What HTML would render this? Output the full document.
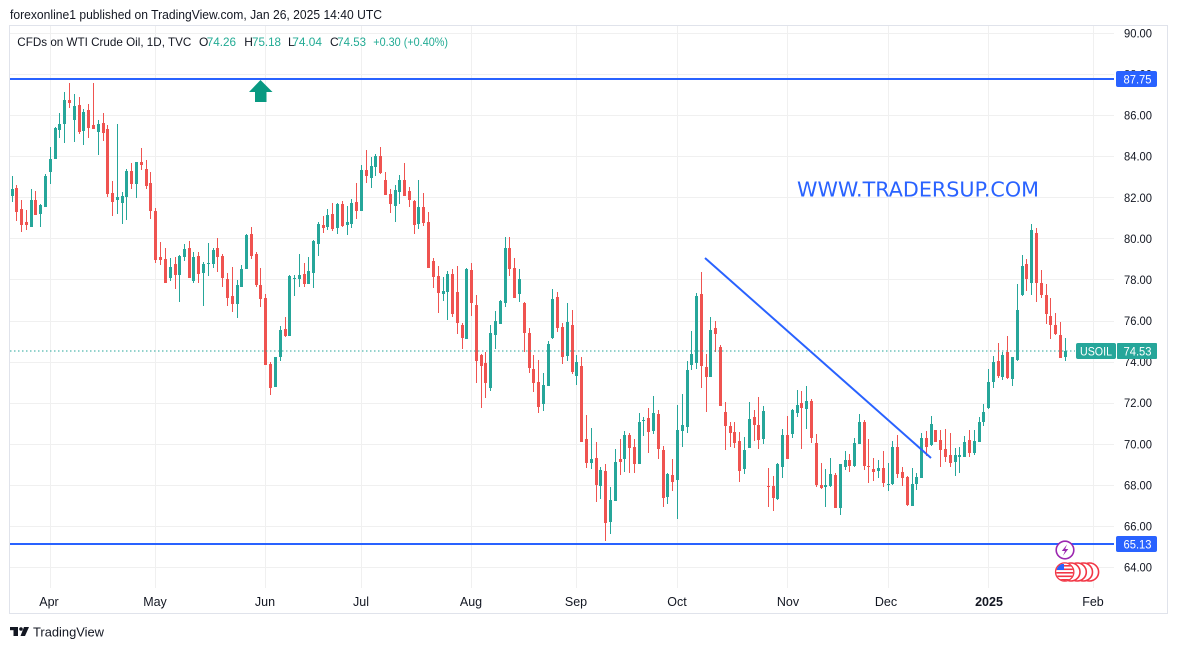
<!DOCTYPE html>
<html>
<head>
<meta charset="utf-8">
<style>
html,body{margin:0;padding:0;background:#fff;width:1177px;height:650px;overflow:hidden;}
svg{display:block;}
text{font-family:"Liberation Sans",Arial,sans-serif;}
</style>
</head>
<body>
<svg id="s" width="1177" height="650" viewBox="0 0 1177 650" xmlns="http://www.w3.org/2000/svg">
<rect x="0" y="0" width="1177" height="650" fill="#fff"/>
<!-- frame -->
<rect x="9.5" y="25.5" width="1158" height="588" fill="none" stroke="#e0e3eb" stroke-width="1"/>
<g id="grid" stroke="#f0f0f0" stroke-width="1"></g>
<!-- header -->
<text x="10" y="19" font-size="12.5" fill="#131722" textLength="372" lengthAdjust="spacingAndGlyphs">forexonline1 published on TradingView.com, Jan 26, 2025 14:40 UTC</text>
<g font-size="12" fill="#131722">
<text x="17.3" y="46" textLength="174" lengthAdjust="spacingAndGlyphs">CFDs on WTI Crude Oil, 1D, TVC</text>
<text x="199" y="46">O</text>
<text x="206.7" y="46" fill="#22ab94" textLength="29.3" lengthAdjust="spacingAndGlyphs">74.26</text>
<text x="244.3" y="46">H</text>
<text x="252" y="46" fill="#22ab94" textLength="29" lengthAdjust="spacingAndGlyphs">75.18</text>
<text x="288" y="46">L</text>
<text x="292.3" y="46" fill="#22ab94" textLength="29.7" lengthAdjust="spacingAndGlyphs">74.04</text>
<text x="330" y="46">C</text>
<text x="337.3" y="46" fill="#22ab94" textLength="28.7" lengthAdjust="spacingAndGlyphs">74.53</text>
<text x="373.3" y="46" fill="#22ab94" textLength="74.7" lengthAdjust="spacingAndGlyphs">+0.30 (+0.40%)</text>
</g>
<!-- axis labels -->
<g id="yl" font-size="12" fill="#131722"></g>
<g id="xl" font-size="12.5" fill="#131722" text-anchor="middle"></g>
<!-- candles -->
<g id="cd"></g>
<!-- dotted last price line -->
<line x1="10" y1="351" x2="1075" y2="351" stroke="#26a69a" stroke-width="1" stroke-dasharray="1.5,2.5"/>
<!-- horizontal levels -->
<rect x="10" y="78" width="1104" height="2" fill="#2962ff"/>
<rect x="10" y="543" width="1104" height="2" fill="#2962ff"/>
<!-- trend line -->
<line x1="705" y1="258" x2="931" y2="458" stroke="#2962ff" stroke-width="2"/>
<!-- arrow -->
<polygon points="260.5,80 272.5,92 266.5,92 266.5,102 255,102 255,92 249,92" fill="#089981"/>
<!-- watermark -->
<text x="797" y="196.5" font-size="20.5" fill="#2962ff" textLength="242" lengthAdjust="spacingAndGlyphs" style='font-family:"DejaVu Sans","Liberation Sans",sans-serif'>WWW.TRADERSUP.COM</text>
<!-- price labels -->
<rect x="1116" y="71" width="41" height="16" rx="2" fill="#2962ff"/>
<text x="1123.5" y="83.5" font-size="12" fill="#fff" textLength="28" lengthAdjust="spacingAndGlyphs">87.75</text>
<rect x="1116" y="536" width="41" height="16" rx="2" fill="#2962ff"/>
<text x="1123.5" y="548.5" font-size="12" fill="#fff" textLength="28" lengthAdjust="spacingAndGlyphs">65.13</text>
<rect x="1076" y="343" width="40" height="16" rx="2" fill="#26a69a"/>
<text x="1080" y="355.5" font-size="12" fill="#fff" textLength="32" lengthAdjust="spacingAndGlyphs">USOIL</text>
<rect x="1117" y="343" width="40" height="16" rx="1" fill="#26a69a"/>
<text x="1123.5" y="355.5" font-size="12" fill="#fff" textLength="28" lengthAdjust="spacingAndGlyphs">74.53</text>
<!-- event icons -->
<defs>
<clipPath id="fc"><circle cx="1064.7" cy="572" r="8.5"/></clipPath>
</defs>
<g stroke="#f23645" stroke-width="1.6" fill="#fff">
<circle cx="1089.6" cy="572" r="9"/>
<circle cx="1083.5" cy="572" r="9"/>
<circle cx="1077.3" cy="572" r="9"/>
<circle cx="1071" cy="572" r="9"/>
<circle cx="1064.7" cy="572" r="9"/>
</g>
<g clip-path="url(#fc)">
<rect x="1055" y="563" width="20" height="20" fill="#fff"/>
<rect x="1055" y="565" width="20" height="1.6" fill="#f23645"/>
<rect x="1055" y="568.5" width="20" height="1.6" fill="#f23645"/>
<rect x="1055" y="572" width="20" height="1.6" fill="#f23645"/>
<rect x="1055" y="575.5" width="20" height="1.6" fill="#f23645"/>
<rect x="1055" y="579" width="20" height="1.6" fill="#f23645"/>
<rect x="1057" y="564" width="7" height="6" fill="#2962ff"/>
</g>
<circle cx="1065" cy="550" r="8.8" fill="#fff" stroke="#9c27b0" stroke-width="1.6"/>
<polygon points="1067,544.5 1061.8,551 1065,551 1063,555.8 1068.3,549 1065.2,549" fill="#9c27b0"/>
<!-- TradingView logo -->
<g fill="#131722">
<rect x="10" y="627" width="8" height="3.2"/>
<rect x="13.5" y="627" width="4.5" height="9"/>
<circle cx="21" cy="629" r="1.8"/>
<polygon points="24,627 29,627 25,636 20.5,636"/>
</g>
<text x="33" y="636.5" font-size="13" fill="#131722" textLength="71" lengthAdjust="spacingAndGlyphs">TradingView</text>
</svg>
<script>
(function(){
var NS="http://www.w3.org/2000/svg";
function el(p,t,a,txt){var e=document.createElementNS(NS,t);for(var k in a)e.setAttribute(k,a[k]);if(txt!==undefined)e.textContent=txt;p.appendChild(e);return e;}
var grid=document.getElementById('grid');
function py(p){return 33+(90-p)*20.54;}
var yl=document.getElementById('yl');
for(var p=90;p>=64;p-=2){
  var y=Math.round(py(p))+0.5;
  el(grid,'line',{x1:10,y1:y,x2:1114,y2:y});
  el(yl,'text',{x:1124,y:(py(p)+4.5).toFixed(1),textLength:28,lengthAdjust:'spacingAndGlyphs'},p.toFixed(2));
}
var vx=[[50.3,'Apr',49],[155.3,'May',155],[265.3,'Jun',265],[361.3,'Jul',361],[471.3,'Aug',471],[576.3,'Sep',576],[677.3,'Oct',677],[787.3,'Nov',788],[888.3,'Dec',886],[988.3,'2025',989],[1093.3,'Feb',1093]];
var xl=document.getElementById('xl');
vx.forEach(function(v){
  var x=Math.round(v[0])+0.5;
  el(grid,'line',{x1:x,y1:26,x2:x,y2:588});
  var t=el(xl,'text',{x:v[2],y:606},v[1]);
  if(v[1]==='2025')t.setAttribute('font-weight','bold');
});
var C=[
[12,176,202,189,196,1],[16.3,185,221,188,212,0],[21.3,200,232,209,225,0],[26.3,210,230,222,225,0],[31.3,189,227,200,227,1],
[35.3,191,215,200,215,0],[40.3,204,227,205,214,1],[45.3,174,207,176,207,1],[50.3,147,184,159,172,1],[55.3,127,159,128,159,1],
[59.3,113,138,124,130,1],[64.3,92,143,100,124,1],[69.3,83,108,100,103,0],[74.3,94,142,106,120,1],[79.3,97,134,105,132,0],
[83.3,109,145,112,131,1],[88.3,104,138,110,128,0],[93.3,83,129,125,129,0],[98.3,120,155,124,132,1],[102.7,113,141,123,133,0],
[107.3,125,197,129,194,0],[112.3,181,216,193,202,0],[117.3,124,214,197,200,1],[122.3,192,224,196,203,1],[126.3,169,220,171,197,1],
[131.3,163,189,171,184,0],[136.3,162,198,162,184,1],[141.3,148,170,162,165,0],[146.3,160,189,169,186,0],[150.3,172,219,183,211,0],
[155.3,208,263,211,260,0],[160.3,242,265,257,260,0],[165.3,248,283,259,283,0],[169.7,258,281,267,278,1],[174.7,257,289,264,275,0],
[179.3,255,302,256,275,1],[184.3,244,261,249,257,1],[189.3,241,278,248,278,0],[193.3,252,283,257,281,1],
[198.3,252,283,256,274,0],[203.3,262,306,264,273,1],[208.3,243,276,263,264,1],[213.3,248,268,250,264,1],[217.3,238,272,248,257,0],
[222.3,254,287,256,278,0],[227.3,273,306,279,298,0],[232.3,267,312,296,304,0],[237.3,280,318,285,304,1],[241.3,265,287,269,287,1],
[246.3,234,269,235,269,1],[251.3,227,259,234,256,0],[256.3,252,287,254,285,0],[260.3,268,307,285,299,0],[265.3,294,365,298,365,0],
[270.3,362,395,364,388,0],[275.3,357,387,357,387,1],[280.3,326,361,330,357,1],[284.7,317,337,329,336,0],[289.3,275,336,276,336,1],
[294.3,275,296,278,279,1],[299.3,254,287,275,279,1],[304.3,263,287,274,284,0],[308.3,257,284,271,284,1],[313.3,240,288,241,273,1],
[318.3,222,256,224,244,1],[323.3,216,233,225,228,0],[327.3,209,230,215,227,1],[332.3,203,231,214,229,0],[337.3,203,234,204,228,1],
[342.3,201,227,204,226,0],[347.3,206,235,222,225,1],[351.3,199,228,203,224,1],[356.3,183,219,202,211,0],[361.3,165,211,170,211,1],
[366.3,150,183,170,176,0],[371.3,157,188,166,178,1],[375.3,154,176,156,167,1],
[380,147,174,156,173,0],[385.3,172,195,180,195,0],[390.3,189,213,194,204,0],[395.3,185,222,190,206,1],[399.3,175,204,180,192,1],
[404.3,163,196,180,196,0],[409.3,187,207,191,200,0],[414.3,200,234,201,225,0],[418.3,180,229,207,224,1],[423.3,193,226,207,223,0],
[428.3,212,268,222,268,0],[433.3,258,288,261,277,0],[438.3,266,313,276,293,0],[442.7,277,301,291,294,1],[447.3,271,320,274,292,1],
[452.3,269,317,274,314,0],[457.3,266,334,292,323,0],[462.3,323,349,325,338,0],[466.3,268,339,269,339,1],[471.3,263,316,270,303,0],
[476.3,295,383,305,361,0],[481.3,354,408,355,366,0],[485.3,352,398,363,383,0],[490.3,325,391,333,388,1],[495.3,311,349,321,335,1],
[500.3,300,324,301,324,1],[505.3,237,307,248,303,1],[509.3,237,276,248,269,0],[514.3,258,298,268,298,0],[519.3,269,302,279,294,1],
[524.3,302,352,303,333,0],[529.3,328,373,333,368,0],[533.3,355,392,369,383,0],[538.3,360,413,382,407,0],[543.3,373,411,385,404,1],
[548.3,341,386,344,386,1],[552.3,289,339,299,338,1],[557.3,292,332,297,328,0],[562.3,323,364,327,357,0],[567.3,303,361,322,356,1],
[572.3,310,374,325,372,0],[576.3,355,385,362,376,1],[581.3,357,442,366,442,0],[586.3,415,468,439,463,0],[591.3,428,469,459,463,1],
[596.3,442,502,458,485,0],[600.3,467,499,470,486,1],[605.3,464,541,471,523,0],[610.3,487,534,500,522,1],[615.3,449,501,462,501,1],
[620.3,439,475,459,462,0],[624.3,431,472,435,459,1],[629.3,433,473,435,448,0],[634.3,439,473,447,464,0],[639.3,413,464,422,464,1],
[643.3,417,436,420,421,1],[648.3,408,453,418,432,0],[653.3,396,434,413,431,1],[658.3,410,459,414,449,0],[663.3,446,507,450,498,0],
[667.3,473,504,474,497,1],[672.3,459,491,475,482,0],[677.3,405,519,430,480,1],[682.3,394,447,425,431,1],[687.3,361,433,370,427,1],
[691.3,331,370,354,365,1],[696.3,293,369,296,363,1],[701.3,272,388,294,366,0],[706.3,354,412,367,377,0],[710.3,317,377,330,377,1],
[715.3,321,352,328,334,0],[720.3,345,406,347,406,0],[725.3,402,450,412,426,0],[730.3,422,447,426,433,0],[734.3,422,448,432,443,0],
[739.3,432,482,441,471,0],[744.3,437,474,450,469,1],[749.3,402,448,419,448,1],[754.3,410,441,417,425,0],[758.3,397,449,425,440,0],
[763.3,406,444,411,439,1],[768.3,468,507,486,487,0],[773.3,476,511,486,498,0],[777.3,463,500,464,499,1],[782.3,429,478,435,467,1],
[787.3,416,459,435,459,0],[792.3,409,438,410,434,1],[797.3,390,417,405,413,1],[801.3,391,449,403,408,0],[806.3,386,429,401,409,1],
[811.3,399,443,401,438,0],[816.3,434,487,443,485,0],[821.3,463,489,485,488,0],[825.3,469,507,485,487,1],[830.3,458,487,474,486,1],
[835.3,473,508,475,508,0],[840.3,464,515,464,508,1],[845.3,451,470,460,467,1],[849.3,454,472,460,466,0],[854.3,438,467,443,466,1],
[859.3,414,444,422,444,1],[864.3,420,470,422,466,0],[868.3,439,483,466,467,0],[873.3,458,481,469,472,0],[878.3,460,478,468,471,1],
[883.3,451,487,468,483,0],[888.3,463,491,484,485,1],[892.3,441,485,447,484,1],[897.3,435,478,447,474,0],[902.3,467,486,472,478,0],
[907.3,476,506,477,505,0],[912.3,468,506,484,506,1],[916.3,473,490,477,484,1],[921.3,433,478,438,478,1],[926.3,431,456,438,447,0],
[931.3,416,446,424,445,1],[935.3,430,442,430,442,0],[940.3,430,467,440,450,0],
[945.3,429,462,449,457,0],[950.3,433,467,455,463,0],[955.3,448,476,455,462,1],[959.3,447,473,455,457,1],[964.3,436,457,442,457,1],
[969.3,430,457,440,453,0],[974.3,430,455,441,453,1],[979.3,417,442,422,442,1],[983.3,404,426,412,422,1],[988.3,369,409,382,408,1],
[993.3,356,388,362,382,1],[998.3,343,378,361,376,0],[1002.3,352,380,355,377,1],[1007.3,336,379,352,378,0],[1012.3,357,386,357,379,1],
[1017.3,284,361,310,360,1],[1022.3,255,296,266,295,1],[1026.3,259,291,264,279,0],[1031.3,224,295,230,283,1],[1036.3,228,302,233,283,0],
[1041.3,270,298,283,295,0],[1046.3,284,324,295,314,0],[1050.3,298,339,316,325,0],[1055.3,313,335,325,334,0],[1060.3,322,358,335,358,0],
[1065.3,338,361,351,357,1]
];
var cd=document.getElementById('cd');
C.forEach(function(c){
  var px=Math.round(c[0]);
  var col=c[5]?'#26a69a':'#ef5350';
  el(cd,'rect',{x:px,y:c[1],width:1,height:Math.max(1,c[2]-c[1]),fill:col});
  el(cd,'rect',{x:px-1,y:c[3],width:3,height:Math.max(1,c[4]-c[3]),fill:col});
});
})();
</script>
</body>
</html>
